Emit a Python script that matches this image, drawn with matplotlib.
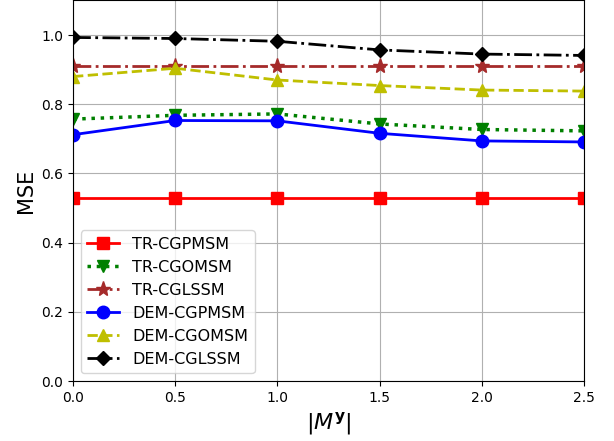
import matplotlib
matplotlib.use("Agg")
import matplotlib.pyplot as plt

x_vals = [0.0, 0.5, 1.0, 1.5, 2.0, 2.5]

tr_cgpmsm = [0.530, 0.530, 0.530, 0.530, 0.530, 0.530]
tr_cgomsm = [0.757, 0.768, 0.772, 0.743, 0.727, 0.723]
tr_cglssm = [0.911, 0.911, 0.911, 0.911, 0.911, 0.911]
dem_cgpmsm = [0.712, 0.753, 0.752, 0.716, 0.694, 0.691]
dem_cgomsm = [0.880, 0.904, 0.870, 0.854, 0.841, 0.838]
dem_cglssm = [0.993, 0.990, 0.982, 0.957, 0.945, 0.941]

fig, ax = plt.subplots(figsize=(6.14, 4.41), dpi=100)

ax.plot(x_vals, tr_cgpmsm, color="red", linestyle="-", marker="s", lw=2, ms=9, label="TR-CGPMSM")
ax.plot(x_vals, tr_cgomsm, color="green", linestyle=":", marker="v", lw=2.5, ms=9, label="TR-CGOMSM")
ax.plot(x_vals, tr_cglssm, color="brown", linestyle="-.", marker="*", lw=2, ms=11, label="TR-CGLSSM")
ax.plot(x_vals, dem_cgpmsm, color="blue", linestyle="-", marker="o", lw=2, ms=9, label="DEM-CGPMSM")
ax.plot(x_vals, dem_cgomsm, color="y", linestyle="--", marker="^", lw=2, ms=9, label="DEM-CGOMSM")
ax.plot(x_vals, dem_cglssm, color="black", linestyle="-.", marker="D", lw=2, ms=7, label="DEM-CGLSSM")

ax.set_xlim(0, 2.5)
ax.set_ylim(0, 1.1)
ax.grid(True)
ax.set_xlabel(r"$|M^{\mathbf{y}}|$", fontsize=16)
ax.set_ylabel("MSE", fontsize=15)
ax.legend(loc="lower left", fontsize=11.5)

fig.subplots_adjust(left=0.119, right=0.951, top=0.999, bottom=0.136)
fig.savefig("out.png", dpi=100)
